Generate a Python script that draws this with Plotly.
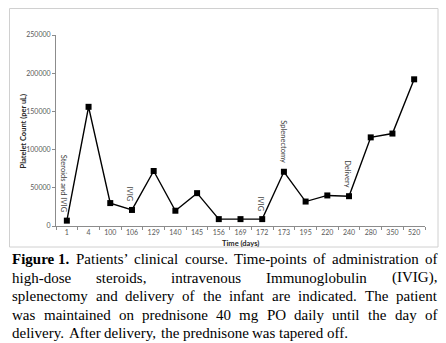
import plotly.graph_objects as go

# Time points (days) and platelet counts (per uL)
days = ["1", "4", "100", "106", "129", "140", "145", "156", "169", "172",
        "173", "195", "220", "240", "280", "350", "520"]
platelets = [7000, 156000, 30000, 21000, 72000, 20000, 43000, 9000, 9000, 9000,
             71000, 32000, 40000, 39000, 116000, 121000, 192000]

# Clinical events marked on the curve
event_days = ["1", "106", "172", "173", "240"]
event_labels = ["Steroids and IVIG", "IVIG", "IVIG", "Splenectomy", "Delivery"]

y_ticks = [0, 50000, 100000, 150000, 200000, 250000]

caption_title = "Figure 1."
caption_lines = [
    "Patients\u2019 clinical course. Time-points of administration of",
    "high-dose steroids, intravenous Immunoglobulin (IVIG),",
    "splenectomy and delivery of the infant are indicated. The patient",
    "was maintained on prednisone 40 mg PO daily until the day of",
    "delivery. After delivery, the prednisone was tapered off.",
]

W, H = 446, 343
L, R, T, B = 56, 425, 35, 226  # plot area in pixels


def px_x(x):
    return (x - L) / (R - L)


def px_y(y):
    return (B - y) / (B - T)


# Times-compatible advance widths (per 1000 em) for Liberation Serif
TIMES = {
    " ": 250, "(": 333, ")": 333, ",": 250, "-": 333, ".": 250, "\u2019": 333,
    "0": 500, "1": 500, "2": 500, "3": 500, "4": 500, "5": 500, "6": 500,
    "7": 500, "8": 500, "9": 500,
    "A": 722, "B": 667, "C": 667, "D": 722, "E": 611, "F": 556, "G": 722,
    "H": 722, "I": 333, "J": 389, "K": 722, "L": 611, "M": 889, "N": 722,
    "O": 722, "P": 556, "Q": 722, "R": 667, "S": 556, "T": 611, "U": 722,
    "V": 722, "W": 944, "X": 722, "Y": 722, "Z": 611,
    "a": 444, "b": 500, "c": 444, "d": 500, "e": 444, "f": 333, "g": 500,
    "h": 500, "i": 278, "j": 278, "k": 500, "l": 278, "m": 778, "n": 500,
    "o": 500, "p": 500, "q": 500, "r": 333, "s": 389, "t": 278, "u": 500,
    "v": 500, "w": 722, "x": 500, "y": 500, "z": 444,
}
TIMES_BOLD = dict(TIMES, F=611, u=556, r=444)


def text_width(s, size, bold=False):
    table = TIMES_BOLD if bold else TIMES
    return sum(table.get(c, 500) for c in s) * size / 1000.0


CAP_SIZE = 15
CAP_LEFT, CAP_RIGHT = 10, 435
CAP_Y = [259, 277.5, 296, 314.5, 332.5]

fig = go.Figure()
fig.add_trace(go.Scatter(
    x=days, y=platelets, mode="lines+markers",
    line=dict(color="black", width=1.4),
    marker=dict(symbol="square", size=6, color="black"),
    hoverinfo="skip", showlegend=False,
))

annotations = []
event_shift = {"1": -3, "106": -2, "172": -2, "173": 0, "240": -1}
for d, lab in zip(event_days, event_labels):
    i = days.index(d)
    annotations.append(dict(
        x=i, y=platelets[i], xref="x", yref="y", text=lab, showarrow=False,
        textangle=90, xanchor="center", yanchor="bottom",
        xshift=event_shift[d], yshift=6,
        font=dict(family="Lato", size=7.5, color="#404040"),
    ))

# Axis titles
annotations.append(dict(
    x=px_x(240.5), y=px_y(243.5), xref="paper", yref="paper",
    text="<b>Time (days)</b>", showarrow=False, xanchor="center", yanchor="middle",
    font=dict(family="Lato", size=7.5, color="#262626"),
))
annotations.append(dict(
    x=px_x(23), y=px_y(131.5), xref="paper", yref="paper",
    text="<b>Platelet Count (per uL)</b>", showarrow=False, textangle=-90,
    xanchor="center", yanchor="middle",
    font=dict(family="Lato", size=7.5, color="#262626"),
))

# Caption: justified paragraph, each word placed individually
for n, line in enumerate(caption_lines):
    words = [(w, False) for w in line.split(" ")]
    if n == 0:
        words = [(caption_title, True)] + words
    widths = [text_width(w, CAP_SIZE, b) for w, b in words]
    last = n == len(caption_lines) - 1
    if last or len(words) < 2:
        gap = text_width(" ", CAP_SIZE)
    else:
        gap = (CAP_RIGHT - CAP_LEFT - sum(widths)) / (len(words) - 1)
    x = CAP_LEFT
    for (w, b), wd in zip(words, widths):
        annotations.append(dict(
            x=px_x(x), y=px_y(CAP_Y[n]), xref="paper", yref="paper",
            text=f"<b>{w}</b>" if b else w,
            showarrow=False, xanchor="left", yanchor="middle",
            font=dict(family="Liberation Serif", size=CAP_SIZE, color="black"),
        ))
        x += wd + gap

fig.update_layout(
    width=W, height=H,
    margin=dict(l=L, r=W - R, t=T, b=H - B, pad=0),
    paper_bgcolor="white", plot_bgcolor="white",
    annotations=annotations,
    shapes=[dict(
        type="rect", xref="paper", yref="paper",
        x0=px_x(9.5), x1=px_x(438), y0=px_y(247), y1=px_y(8.5),
        line=dict(color="#d0d0d0", width=1), fillcolor="rgba(0,0,0,0)",
        layer="below",
    )],
    xaxis=dict(
        type="category", categoryorder="array", categoryarray=days,
        range=[-0.5, len(days) - 0.5],
        showline=True, linecolor="#8c8c8c", linewidth=1,
        ticks="outside", ticklen=3, tickcolor="#8c8c8c", tickson="boundaries",
        tickfont=dict(family="Lato", size=7, color="#595959"),
        showgrid=False, zeroline=False, fixedrange=True,
    ),
    yaxis=dict(
        range=[0, 250000], tickvals=y_ticks, ticktext=[str(v) for v in y_ticks],
        showline=True, linecolor="#8c8c8c", linewidth=1,
        ticks="outside", ticklen=3, tickcolor="#8c8c8c",
        tickfont=dict(family="Lato", size=7, color="#595959"),
        showgrid=False, zeroline=False, fixedrange=True,
    ),
)

fig.write_html("out.html", config={"displayModeBar": False})
